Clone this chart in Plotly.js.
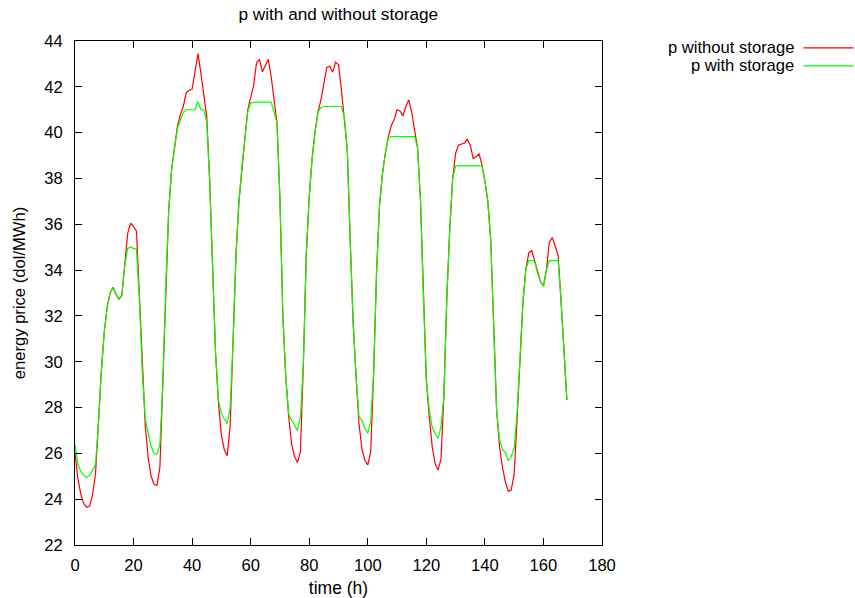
<!DOCTYPE html>
<html>
<head>
<meta charset="utf-8">
<script src="https://cdn.plot.ly/plotly-3.0.1.min.js"></script>
<style>
html,body{margin:0;padding:0;background:#fff;}
#chart{width:855px;height:598px;}
</style>
</head>
<body>
<div id="chart"></div>
<script>
// time (h)
var hours = [0,1,2,3,4,5,6,7,8,9,10,11,12,13,14,15,16,17,18,19,20,21,22,23,24,
25,26,27,28,29,30,31,32,33,34,35,36,37,38,39,40,41,42,43,44,45,46,47,48,
49,50,51,52,53,54,55,56,57,58,59,60,61,62,63,64,65,66,67,68,69,70,71,72,
73,74,75,76,77,78,79,80,81,82,83,84,85,86,87,88,89,90,91,92,93,94,95,96,
97,98,99,100,101,102,103,104,105,106,107,108,109,110,111,112,113,114,115,116,117,118,119,120,
121,122,123,124,125,126,127,128,129,130,131,132,133,134,135,136,137,138,139,140,141,142,143,144,
145,146,147,148,149,150,151,152,153,154,155,156,157,158,159,160,161,162,163,164,165,166,167,168];

// energy price without storage (dol/MWh)
var pWithout = [
26.0,24.9,24.2,23.8,23.65,23.7,24.2,25.1,27.3,29.6,31.3,32.4,33.0,33.25,32.95,32.73,32.9,34.2,35.6,36.05,35.9,35.7,32.7,29.5,
27.2,25.8,25.0,24.65,24.6,25.4,29.0,33.3,36.6,38.4,39.4,40.3,40.8,41.15,41.75,41.85,41.9,42.7,43.45,42.6,41.6,40.7,37.9,34.3,
30.4,28.2,26.8,26.15,25.9,27.2,30.9,34.7,37.0,38.5,39.7,41.0,41.6,42.05,43.05,43.2,42.65,42.95,43.2,42.45,41.4,40.4,37.1,32.0,
29.3,27.6,26.4,25.85,25.6,26.1,29.9,34.7,37.2,38.9,40.05,40.9,41.43,42.16,42.85,42.9,42.64,43.08,42.96,41.87,40.7,39.25,35.3,31.7,
29.35,27.3,26.2,25.7,25.5,26.07,29.5,33.9,36.8,38.2,39.1,39.8,40.3,40.56,41.0,40.95,40.73,41.14,41.43,40.9,40.1,39.35,37.06,32.8,
29.2,27.6,26.3,25.55,25.27,25.75,28.5,32.8,35.8,38.0,39.1,39.45,39.51,39.55,39.71,39.45,38.88,38.95,39.07,38.6,37.9,37.0,35.3,31.2,
27.9,26.3,25.4,24.75,24.35,24.4,25.1,27.5,30.4,32.6,34.05,34.75,34.85,34.4,33.85,33.5,33.3,34.0,35.2,35.43,35.05,34.65,32.7,30.6,
28.33];

// energy price with storage (dol/MWh)
var pWith = [
26.4,25.5,25.2,25.05,24.95,25.05,25.25,25.5,27.3,29.6,31.3,32.4,33.0,33.25,32.95,32.73,32.9,34.2,34.95,35.0,34.95,34.9,32.7,29.5,
27.5,26.9,26.3,26.0,25.95,26.4,29.0,33.3,36.6,38.4,39.4,40.2,40.55,40.9,41.0,41.0,41.0,41.0,41.35,41.0,41.0,40.45,37.9,34.3,
30.4,28.3,27.75,27.5,27.3,28.0,30.9,34.7,37.0,38.5,39.7,40.9,41.3,41.33,41.33,41.33,41.33,41.33,41.33,41.33,40.9,40.4,37.1,32.0,
29.3,27.7,27.45,27.2,27.0,27.6,29.9,34.7,37.2,38.9,40.05,40.9,41.1,41.14,41.14,41.14,41.14,41.14,41.14,41.14,40.7,39.25,35.3,31.7,
29.35,27.6,27.45,27.1,26.87,27.4,29.5,33.9,36.8,38.2,39.1,39.75,39.83,39.83,39.83,39.83,39.83,39.83,39.83,39.83,39.83,39.35,37.06,32.8,
29.2,27.9,27.15,26.87,26.65,27.15,28.5,32.8,35.8,38.0,38.55,38.55,38.55,38.55,38.55,38.55,38.55,38.55,38.55,38.55,37.9,37.0,35.3,31.2,
27.9,26.6,26.18,26.03,25.68,25.85,26.22,27.8,30.4,32.6,34.05,34.41,34.41,34.37,33.85,33.5,33.3,34.0,34.41,34.41,34.41,34.41,32.7,30.6,
28.33];

var xTicks = [0,20,40,60,80,100,120,140,160,180];
var yTicks = [22,24,26,28,30,32,34,36,38,40,42,44];
var seriesNames = ['p without storage', 'p with storage'];
var seriesColors = ['#ff0000', '#00ff00'];

var FONT = 'Liberation Sans, Arial, Helvetica, sans-serif';
var FS = 16.6;

var traces = [
  {x: hours, y: pWithout, type: 'scatter', mode: 'lines', name: seriesNames[0],
   line: {color: seriesColors[0], width: 1.2}, showlegend: false, hoverinfo: 'x+y'},
  {x: hours, y: pWith, type: 'scatter', mode: 'lines', name: seriesNames[1],
   line: {color: seriesColors[1], width: 1.2}, showlegend: false, hoverinfo: 'x+y'}
];

// legend drawn gnuplot-style: text right-aligned, sample line to its right
var legY = [0.9865, 0.9508];
var annotations = [];
var shapes = [];
for (var i = 0; i < seriesNames.length; i++) {
  annotations.push({xref: 'paper', yref: 'paper', x: 1.3672, y: legY[i],
    xanchor: 'right', yanchor: 'middle', text: seriesNames[i], showarrow: false,
    font: {family: FONT, size: FS, color: '#000'}});
  shapes.push({type: 'line', xref: 'paper', yref: 'paper', x0: 1.3823, x1: 1.4773,
    y0: legY[i], y1: legY[i], line: {color: seriesColors[i], width: 1.2}});
}

var axisCommon = {
  showline: true, linecolor: '#000', linewidth: 1, mirror: 'ticks',
  ticks: 'inside', ticklen: 7, tickwidth: 1, tickcolor: '#000',
  showgrid: false, zeroline: false,
  tickfont: {family: FONT, size: FS, color: '#000'}
};

var layout = {
  width: 855, height: 598,
  paper_bgcolor: '#fff', plot_bgcolor: '#fff',
  margin: {l: 75, r: 253, t: 41, b: 53, pad: 0},
  font: {family: FONT, size: FS, color: '#000'},
  title: {text: 'p with and without storage', x: 0.3957, xref: 'container', xanchor: 'center',
    y: 0.976, yref: 'container', yanchor: 'middle', font: {family: FONT, size: 17.2, color: '#000'}},
  xaxis: Object.assign({}, axisCommon, {
    range: [0, 180], tickmode: 'array', tickvals: xTicks, ticktext: xTicks.map(String),
    ticklabelstandoff: 5,
    title: {text: 'time (h)', standoff: 8, font: {family: FONT, size: 17.5, color: '#000'}}
  }),
  yaxis: Object.assign({}, axisCommon, {
    range: [22, 44], tickmode: 'array', tickvals: yTicks, ticktext: yTicks.map(String),
    ticklabelstandoff: 8,
    title: {text: 'energy price (dol/MWh)', standoff: 14, font: {family: FONT, size: FS, color: '#000'}}
  }),
  annotations: annotations,
  shapes: shapes,
  showlegend: false
};

Plotly.newPlot('chart', traces, layout, {displayModeBar: false, staticPlot: true});
</script>
</body>
</html>
